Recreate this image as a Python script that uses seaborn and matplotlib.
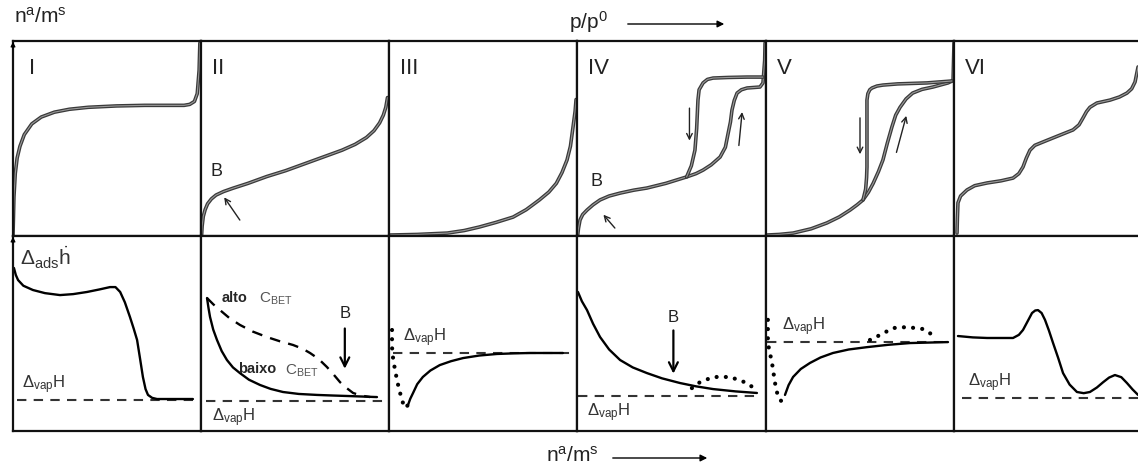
import matplotlib
matplotlib.use("Agg")
import matplotlib.pyplot as plt
import seaborn as sns

sns.set_theme(style="white")
plt.rcParams["font.family"] = ["Liberation Sans", "DejaVu Sans"]
plt.rcParams["mathtext.fontset"] = "custom"
plt.rcParams["mathtext.rm"] = "Liberation Sans"
plt.rcParams["mathtext.it"] = "Liberation Sans:italic"

# --- data (panel units: 0..100 in x and y) ---
roman = ["I", "II", "III", "IV", "V", "VI"]

# top row: isotherms, amount adsorbed vs p/p0
iso1_x = [0, 0.5, 1.2, 2.2, 3.7, 6, 10, 15, 22, 30, 40, 55, 70, 85, 91, 94, 96.5, 98, 99, 99.4]
iso1_y = [0, 20, 32, 40, 46, 52, 57.5, 61, 63.5, 65, 66, 66.7, 67, 67, 67, 67.5, 69, 73, 85, 99]

iso2_x = [0.3, 0.6, 1.2, 2.2, 3.5, 5.5, 8, 12, 17, 25, 35, 45, 55, 65, 75, 82, 88, 92, 95, 97, 98.3, 99.2]
iso2_y = [0, 5, 10, 13.5, 16.5, 19, 21, 22.8, 24.5, 27, 30.5, 33.5, 37, 40.5, 44, 47, 50.5, 54, 58, 62, 66, 71]

iso3_x = [0.5, 15, 31, 40, 48, 57, 66, 73, 80, 85, 89, 92, 94.7, 96.5, 97.9, 99, 99.5]
iso3_y = [0.5, 0.8, 1.5, 2.8, 4.6, 7, 9.7, 13.5, 18.5, 22.5, 27, 32.5, 39, 46, 56, 64, 70]

iso4_ads_x = [0.3, 0.8, 1.6, 3, 5.3, 8.5, 12.2, 17, 22.8, 30, 37, 47, 58, 63, 66.7, 71, 75.7, 78.5, 80, 81.2, 82,
              83.2, 84.7, 87, 90, 96.8, 98.4, 99.3, 99.5]
iso4_ads_y = [0, 4, 8.2, 11, 13.3, 16, 18.5, 20.5, 22, 23.5, 24.6, 27, 30.3, 32, 33.8, 36.5, 40.5, 45.5, 52.8, 58.5, 64.6,
              69.5, 73.3, 75, 75.9, 76.4, 78.5, 90, 99]
iso4_des_x = [58, 60.5, 62.4, 63.3, 64, 64.6, 66.7, 69, 72, 80, 90, 98.4]
iso4_des_y = [30.3, 36, 44, 55, 69.7, 75, 78.5, 80.3, 81, 81.3, 81.5, 81.5]

iso5_ads_x = [0.5, 7, 14.4, 24, 32.4, 39, 44.7, 48.5, 51.6, 54.5, 57, 59.8, 62.2, 64.5, 67, 69, 71.3, 74.5, 78, 83,
              88.8, 93, 96.8, 98.6, 99.5, 100]
iso5_ads_y = [0.5, 0.8, 1.5, 3.7, 6.7, 9.8, 13.3, 16, 18.5, 22.5, 27, 33, 39, 47.5, 56, 62, 66, 70.3, 73.3, 75.2,
              76.4, 77.5, 78.5, 79.3, 80, 99]
iso5_des_x = [51.6, 53, 53.5, 53.7, 53.7, 54.2, 55.2, 56.4, 59, 62.2, 70, 85.6, 99]
iso5_des_y = [18.5, 24, 30, 35.4, 69.7, 73, 75, 75.9, 76.9, 77.4, 78, 78.5, 79.5]

iso6_x = [1.6, 1.8, 2.1, 3.5, 6.9, 11, 17.6, 25, 31.4, 34.5, 36.7, 38.5, 40.4, 43, 47.3, 55, 63.3, 66.5, 68.6, 70.5,
          72.3, 76, 83, 88, 92, 94.5, 96.3, 97.9]
iso6_y = [1.5, 9, 17, 20.5, 23.6, 25.8, 27.2, 28.3, 29.7, 32, 35.4, 40, 44, 46.5, 48.2, 51.2, 54.4, 57, 60.5, 63.8,
          66, 68.2, 69.7, 71.3, 73.3, 75.5, 79, 86.7]

# bottom row: differential enthalpy vs amount adsorbed
enth1_x = [0.5, 1.5, 2.7, 5.5, 10.6, 17, 25, 32, 39.4, 46, 51.6, 54.5, 57, 59.5, 62.2, 64.2, 66, 67.6, 69.1, 70.5,
           71.8, 74, 76.6, 85, 95.7]
enth1_y = [83.6, 80, 77.4, 74.5, 72.3, 70.7, 69.7, 70.2, 71.3, 72.6, 73.8, 73.8, 71.3, 66, 58.5, 52.5, 46.7, 37,
           27.7, 21.5, 18.5, 17, 16.4, 16.4, 16.4]

enth2_low_x = [3.2, 4, 4.8, 6.5, 8.5, 11, 13.8, 17, 20.7, 25.5, 31.4, 37, 43.6, 52, 61.7, 70, 79.3, 93.6]
enth2_low_y = [68.2, 63, 58.5, 52, 46.7, 41, 36.4, 32.6, 29.7, 26.3, 23.6, 21.6, 20, 19, 18.5, 18.2, 17.9, 17.4]
enth2_high_x = [3.2, 6.5, 10.1, 15, 20.7, 27.5, 35, 42, 49, 54, 58, 62.5, 67, 70.5, 74, 77.5, 80.9, 85, 90]
enth2_high_y = [68.2, 65, 62, 58, 54.4, 51, 48.2, 46, 44.1, 42.2, 40, 37, 32.8, 29, 25, 22, 19.5, 18.2, 17.4]

enth3_dot_x = [1.6, 1.6, 2.2, 3.2, 4.5, 5.9, 7.2, 8.5, 10.1]
enth3_dot_y = [51.8, 43, 37, 31.3, 25, 19.5, 15, 11.8, 13.3]
enth3_x = [10.1, 11.3, 12.8, 15, 18, 22, 27, 33, 39.4, 48, 57.4, 66, 75, 92.5]
enth3_y = [13.3, 16.5, 19.5, 24, 27.7, 31, 33.8, 35.8, 37.4, 38.7, 39.5, 39.8, 40, 40]

enth4_x = [0.5, 2.6, 5.3, 8.5, 12.2, 17, 22.8, 29.5, 37, 45, 54.5, 63, 72, 84, 95.2]
enth4_y = [71.3, 66.5, 62, 55, 48.2, 41.8, 36.4, 32.6, 29.7, 27, 24.6, 22.9, 21.5, 20.3, 19.5]
enth4_dot_x = [60.8, 65, 72, 81, 90, 94.2]
enth4_dot_y = [22, 25, 27.7, 27.7, 24.6, 21.5]

enth5_dot_x = [1, 1, 3.2, 4.8, 6.4, 8.5]
enth5_dot_y = [57, 45, 34.9, 24.6, 17.4, 14.9]
enth5_x = [10.1, 12, 14.4, 18.5, 23.4, 29, 35.6, 44, 53.7, 65, 76.6, 96.8]
enth5_y = [18.5, 23.5, 27.7, 31.8, 34.9, 37.7, 40, 41.8, 43, 44.2, 45.1, 45.6]
enth5_bump_x = [55.3, 60.6, 67.6, 75, 83.5, 88.8]
enth5_bump_y = [46.7, 49.2, 52.8, 53.3, 52.3, 49.2]

enth6_x = [2.1, 10, 17.6, 25, 31.4, 34.5, 36.7, 39.3, 41.5, 43.2, 44.7, 46.6, 48.4, 50.5, 52.7, 55.4, 58, 61.5,
           65.4, 69, 72.3, 76, 79.3, 82.5, 85.6, 89, 92, 95, 97.9]
enth6_y = [48.7, 48, 47.7, 47.7, 47.7, 49.3, 51.8, 56.5, 60.5, 61.8, 62, 60.5, 57, 51.5, 45.1, 37.5, 29.7, 23.8,
           20, 19.4, 20, 22.3, 25, 27.4, 28.7, 27.6, 24.6, 21.3, 18.5]

# Delta_vap H reference level and extent per bottom panel
vap_level = [15.9, 15.4, 40, 18, 45.6, 17]
vap_start = [2, 2.7, 2, 0.5, 0.5, 4]
vap_end = [96, 96.8, 98, 95, 97, 100]

# --- layout (pixel edges of the frames) ---
W, H = 1138, 466
col_edges = [13, 201, 389, 577, 766, 954, 1142]
top_row = (41, 236)
bot_row = (236, 431)

fig = plt.figure(figsize=(W / 100, H / 100), dpi=100)


def make_ax(c, row):
    x0, x1 = col_edges[c], col_edges[c + 1]
    y0, y1 = row
    ax = fig.add_axes([x0 / W, (H - y1) / H, (x1 - x0) / W, (y1 - y0) / H])
    ax.set_xlim(0, 100)
    ax.set_ylim(0, 100)
    ax.set_xticks([])
    ax.set_yticks([])
    ax.set_xlabel("")
    ax.set_ylabel("")
    for s in ax.spines.values():
        s.set_color("#111111")
        s.set_linewidth(1.6)
    ax.set_facecolor("white")
    return ax


tops = [make_ax(c, top_row) for c in range(6)]
bots = [make_ax(c, bot_row) for c in range(6)]


def iso(ax, xs, ys):
    # double-stroke look of the scanned isotherms
    sns.lineplot(x=xs, y=ys, ax=ax, sort=False, estimator=None, color="#3a3a3a", lw=2.6,
                 solid_capstyle="round", solid_joinstyle="round")
    sns.lineplot(x=xs, y=ys, ax=ax, sort=False, estimator=None, color="#9a9a9a", lw=0.8,
                 solid_capstyle="round", solid_joinstyle="round")


def solid(ax, xs, ys, **kw):
    sns.lineplot(x=xs, y=ys, ax=ax, sort=False, estimator=None, color="black", lw=1.7, **kw)


def dotted(ax, xs, ys):
    sns.lineplot(x=xs, y=ys, ax=ax, sort=False, estimator=None, color="black", lw=3.0,
                 linestyle=(0, (0.01, 2.2)), dash_capstyle="round")


iso(tops[0], iso1_x, iso1_y)
iso(tops[1], iso2_x, iso2_y)
iso(tops[2], iso3_x, iso3_y)
iso(tops[3], iso4_ads_x, iso4_ads_y)
iso(tops[3], iso4_des_x, iso4_des_y)
iso(tops[4], iso5_ads_x, iso5_ads_y)
iso(tops[4], iso5_des_x, iso5_des_y)
iso(tops[5], iso6_x, iso6_y)

for i, ax in enumerate(tops):
    ax.text(8.5 if i == 0 else 6, 91.5, roman[i], fontsize=16, color="#222222", va="top", ha="left")

# Delta_vap H dashed references
for i, ax in enumerate(bots):
    ax.hlines(vap_level[i], vap_start[i], vap_end[i], colors="#333333", linestyles=(0, (4.5, 3.5)), lw=1.5)

solid(bots[0], enth1_x, enth1_y)
solid(bots[1], enth2_low_x, enth2_low_y)
solid(bots[1], enth2_high_x, enth2_high_y, linestyle=(0, (4.5, 3.5)))
dotted(bots[2], enth3_dot_x, enth3_dot_y)
solid(bots[2], enth3_x, enth3_y)
solid(bots[3], enth4_x, enth4_y)
dotted(bots[3], enth4_dot_x, enth4_dot_y)
dotted(bots[4], enth5_dot_x, enth5_dot_y)
solid(bots[4], enth5_x, enth5_y)
dotted(bots[4], enth5_bump_x, enth5_bump_y)
solid(bots[5], enth6_x, enth6_y)

vap = r"$\Delta_{\mathrm{vap}}\mathrm{H}$"
lab = dict(fontsize=12, color="#333333", ha="left", va="center")
bots[0].text(5, 23.6, vap, **lab)
bots[1].text(6, 7, vap, **lab)
bots[2].text(7.4, 47.7, vap, **lab)
bots[3].text(5.3, 9.5, vap, **lab)
bots[4].text(8.5, 53.3, vap, **lab)
bots[5].text(7.4, 24.6, vap, **lab)
bots[0].text(3.5, 89, r"$\Delta_{\mathrm{ads}}\dot{\mathrm{h}}$", fontsize=15, color="#333333",
             ha="left", va="center")

# Type II labels
bots[1].text(11, 68, "alto", fontsize=10.5, fontweight="bold", ha="left", va="center")
bots[1].text(31, 68, r"$\mathrm{C}_{\mathrm{BET}}$", fontsize=11, color="#555555", ha="left", va="center")
bots[1].text(19.5, 32, "baixo", fontsize=10.5, fontweight="bold", ha="left", va="center")
bots[1].text(44.5, 31, r"$\mathrm{C}_{\mathrm{BET}}$", fontsize=11, color="#555555", ha="left", va="center")

# B points and arrows
bots[1].text(76.5, 60, "B", fontsize=12, ha="center", va="center", color="#222222")
bots[1].annotate("", xy=(76.5, 30.5), xytext=(76.5, 54),
                 arrowprops=dict(arrowstyle="->", lw=1.6, color="black", mutation_scale=16))
bots[3].text(51, 58, "B", fontsize=12, ha="center", va="center", color="#222222")
bots[3].annotate("", xy=(51, 28), xytext=(51, 53),
                 arrowprops=dict(arrowstyle="->", lw=1.6, color="black", mutation_scale=16))

thin = dict(arrowstyle="->", lw=1.0, color="#222222", mutation_scale=10)
tops[1].text(8.5, 33, "B", fontsize=13, ha="center", va="center", color="#222222")
tops[1].annotate("", xy=(11.5, 21), xytext=(21.5, 7), arrowprops=thin)
tops[3].text(10.5, 28, "B", fontsize=13, ha="center", va="center", color="#222222")
tops[3].annotate("", xy=(13, 12), xytext=(21, 3), arrowprops=thin)
tops[3].annotate("", xy=(59.5, 47.5), xytext=(59.5, 67), arrowprops=thin)
tops[3].annotate("", xy=(87.5, 65), xytext=(85.5, 45), arrowprops=thin)
tops[4].annotate("", xy=(50, 40.5), xytext=(50, 62), arrowprops=thin)
tops[4].annotate("", xy=(75, 63), xytext=(69, 41.5), arrowprops=thin)

# axis tips on the left frame
for ax in (tops[0], bots[0]):
    ax.annotate("", xy=(0, 101), xytext=(0, 95), annotation_clip=False,
                arrowprops=dict(arrowstyle="-|>", lw=0.8, color="black", mutation_scale=7))

# global axis labels
fig.text(40 / W, 1 - 17 / H, r"n$^{\mathrm{a}}$/m$^{\mathrm{s}}$", fontsize=15, color="#222222",
         ha="center", va="center")
fig.text(588 / W, 1 - 22 / H, r"p/p$^{0}$", fontsize=15, color="#222222", ha="center", va="center")
fig.patches.append(matplotlib.patches.FancyArrowPatch((625 / W, 1 - 24 / H), (727 / W, 1 - 24 / H),
                                                      transform=fig.transFigure, arrowstyle="-|>",
                                                      mutation_scale=10, lw=1.0, color="black"))
fig.text(572 / W, 1 - 456 / H, r"n$^{\mathrm{a}}$/m$^{\mathrm{s}}$", fontsize=15, color="#222222",
         ha="center", va="center")
fig.patches.append(matplotlib.patches.FancyArrowPatch((610 / W, 1 - 458 / H), (710 / W, 1 - 458 / H),
                                                      transform=fig.transFigure, arrowstyle="-|>",
                                                      mutation_scale=10, lw=1.0, color="black"))

fig.savefig("out.png", dpi=100, facecolor="white")
